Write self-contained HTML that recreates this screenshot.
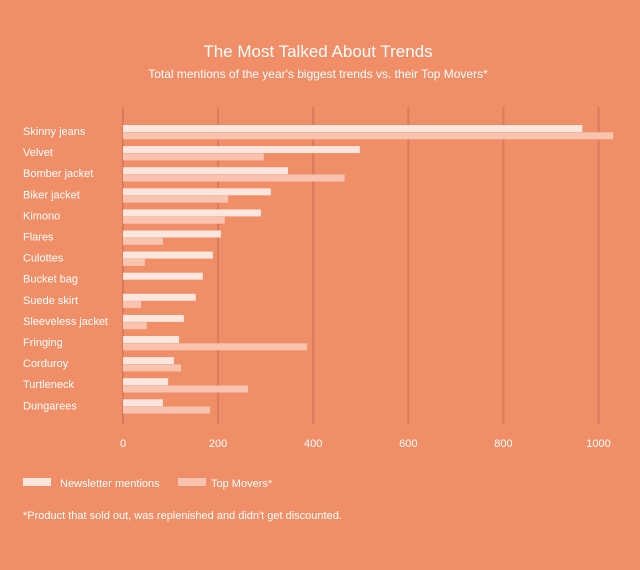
<!DOCTYPE html>
<html><head><meta charset="utf-8"><style>
body{margin:0;width:640px;height:565px;background:#EF8E67;font-family:"Liberation Sans",sans-serif;overflow:hidden}
</style></head><body>
<svg width="640" height="565" id="svg">
<text x="318" y="57" text-anchor="middle" fill="#fff" font-size="17">The Most Talked About Trends</text>
<text x="318" y="78" text-anchor="middle" fill="#fff" font-size="12">Total mentions of the year's biggest trends vs. their Top Movers*</text>
<g id="grid"></g><g id="bars"></g><g id="labels"></g>
<rect x="23" y="478" width="28" height="8" fill="#FCE6DD"/>
<text x="60" y="487" fill="#fff" font-size="11">Newsletter mentions</text>
<rect x="178" y="478" width="28" height="8" fill="#F8C4AF"/>
<text x="211" y="487" fill="#fff" font-size="11">Top Movers*</text>
<text x="23" y="519" fill="#fff" font-size="11">*Product that sold out, was replenished and didn't get discounted.</text>
</svg>
<script>
const categories=["Skinny jeans","Velvet","Bomber jacket","Biker jacket","Kimono","Flares","Culottes","Bucket bag","Suede skirt","Sleeveless jacket","Fringing","Corduroy","Turtleneck","Dungarees"];
const newsletter=[966,498,347,311,290,206,189,168,153,128,118,107,95,84];
const topMovers=[1031,296,466,221,214,84,46,0,38,50,387,122,263,183];
const ticks=[0,200,400,600,800,1000];
const NS="http://www.w3.org/2000/svg";
const x=v=>123+v*0.4755;
const rowY=i=>125+i*21.1;
function mk(t,a,p){const e=document.createElementNS(NS,t);for(const k in a)e.setAttribute(k,a[k]);p.appendChild(e);return e;}
const g=document.getElementById('grid'),b=document.getElementById('bars'),l=document.getElementById('labels');
ticks.forEach(t=>{
 const ln=mk('line',{x1:x(t),x2:x(t),y1:107,y2:424,stroke:'#D97A5A','stroke-width':2},g);
 
 
 const tx=mk('text',{x:x(t),y:447,'text-anchor':'middle',fill:'#fff','font-size':11},l);tx.textContent=t;
 
 
});
categories.forEach((c,i)=>{
 const y=rowY(i);
 const t=mk('text',{x:23,y:y+10,fill:'#fff','font-size':11},l);t.textContent=c;
 
 
 const r1=mk('rect',{x:x(0),y:y,width:x(newsletter[i])-x(0),height:7,fill:'#FCE6DD'},b);
 
 
 if(topMovers[i]>0){const r2=mk('rect',{x:x(0),y:y+7.3,width:x(topMovers[i])-x(0),height:7,fill:'#F8C4AF'},b);
 
 }
});
</script>
</body></html>
